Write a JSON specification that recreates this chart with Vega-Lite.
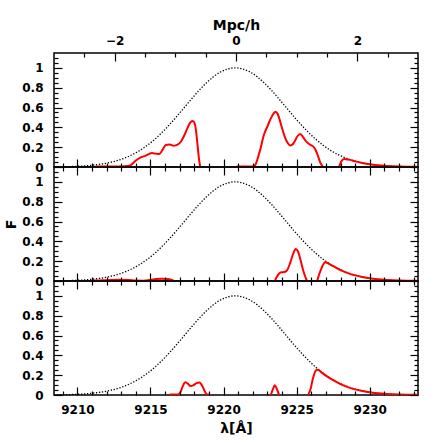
{
"$schema": "https://vega.github.io/schema/vega-lite/v6.json",
"background": "white",
"padding": {"left": 3, "top": 17, "right": 5, "bottom": 5},
"spacing": 0,
"bounds": "flush",
"datasets": {
"env": [
{"lam":9208.4,"F":0.0016},{"lam":9208.8,"F":0.0024},{"lam":9209.3,"F":0.0039},{"lam":9209.8,"F":0.0062},{"lam":9210.3,"F":0.0097},{"lam":9210.8,"F":0.015},{"lam":9211.3,"F":0.0226},{"lam":9211.8,"F":0.0333},{"lam":9212.3,"F":0.0481},{"lam":9212.8,"F":0.068},{"lam":9213.3,"F":0.0942},{"lam":9213.8,"F":0.1277},{"lam":9214.3,"F":0.1695},{"lam":9214.8,"F":0.2204},{"lam":9215.3,"F":0.2806},{"lam":9215.8,"F":0.3499},{"lam":9216.3,"F":0.4271},{"lam":9216.8,"F":0.5106},{"lam":9217.3,"F":0.5977},{"lam":9217.8,"F":0.6852},{"lam":9218.3,"F":0.7691},{"lam":9218.8,"F":0.8453},{"lam":9219.3,"F":0.9098},{"lam":9219.8,"F":0.9589},{"lam":9220.3,"F":0.9896},{"lam":9220.8,"F":1},{"lam":9221.3,"F":0.9896},{"lam":9221.8,"F":0.9589},{"lam":9222.3,"F":0.9098},{"lam":9222.8,"F":0.8453},{"lam":9223.3,"F":0.7691},{"lam":9223.8,"F":0.6852},{"lam":9224.3,"F":0.5977},{"lam":9224.8,"F":0.5106},{"lam":9225.3,"F":0.4271},{"lam":9225.8,"F":0.3499},{"lam":9226.3,"F":0.2806},{"lam":9226.8,"F":0.2204},{"lam":9227.3,"F":0.1695},{"lam":9227.8,"F":0.1277},{"lam":9228.3,"F":0.0942},{"lam":9228.8,"F":0.068},{"lam":9229.3,"F":0.0481},{"lam":9229.8,"F":0.0333},{"lam":9230.3,"F":0.0226},{"lam":9230.8,"F":0.015},{"lam":9231.3,"F":0.0097},{"lam":9231.8,"F":0.0062},{"lam":9232.3,"F":0.0039},{"lam":9232.8,"F":0.0024},{"lam":9233.3,"F":0.0014}
],
"mpcaxis": [{"mpc":-3,"F":0},{"mpc":3,"F":0}],
"red": [
{"p":1,"lam":9208.4,"F":-0.01},{"p":1,"lam":9211.0,"F":-0.01},{"p":1,"lam":9211.3,"F":0.004},{"p":1,"lam":9212.5,"F":0.004},{"p":1,"lam":9213.0,"F":0.005},{"p":1,"lam":9213.4,"F":0.01},{"p":1,"lam":9213.65,"F":0.02},{"p":1,"lam":9214.0,"F":0.065},{"p":1,"lam":9214.3,"F":0.095},{"p":1,"lam":9214.6,"F":0.11},{"p":1,"lam":9215.1,"F":0.14},{"p":1,"lam":9215.35,"F":0.135},{"p":1,"lam":9215.6,"F":0.13},{"p":1,"lam":9215.85,"F":0.18},{"p":1,"lam":9216.05,"F":0.222},{"p":1,"lam":9216.3,"F":0.228},{"p":1,"lam":9216.6,"F":0.215},{"p":1,"lam":9216.85,"F":0.225},{"p":1,"lam":9217.1,"F":0.26},{"p":1,"lam":9217.35,"F":0.33},{"p":1,"lam":9217.55,"F":0.4},{"p":1,"lam":9217.75,"F":0.455},{"p":1,"lam":9217.9,"F":0.465},{"p":1,"lam":9218.02,"F":0.44},{"p":1,"lam":9218.12,"F":0.36},{"p":1,"lam":9218.22,"F":0.22},{"p":1,"lam":9218.32,"F":0.08},{"p":1,"lam":9218.42,"F":0.0},{"p":1,"lam":9218.5,"F":-0.01},{"p":1,"lam":9220.8,"F":-0.01},{"p":1,"lam":9220.95,"F":0.004},{"p":1,"lam":9222.05,"F":0.004},{"p":1,"lam":9222.2,"F":0.03},{"p":1,"lam":9222.4,"F":0.12},{"p":1,"lam":9222.55,"F":0.2},{"p":1,"lam":9222.75,"F":0.32},{"p":1,"lam":9223.0,"F":0.41},{"p":1,"lam":9223.2,"F":0.48},{"p":1,"lam":9223.4,"F":0.535},{"p":1,"lam":9223.56,"F":0.558},{"p":1,"lam":9223.7,"F":0.535},{"p":1,"lam":9223.85,"F":0.47},{"p":1,"lam":9224.0,"F":0.39},{"p":1,"lam":9224.2,"F":0.3},{"p":1,"lam":9224.4,"F":0.24},{"p":1,"lam":9224.55,"F":0.218},{"p":1,"lam":9224.7,"F":0.225},{"p":1,"lam":9224.85,"F":0.255},{"p":1,"lam":9225.05,"F":0.31},{"p":1,"lam":9225.25,"F":0.333},{"p":1,"lam":9225.45,"F":0.3},{"p":1,"lam":9225.65,"F":0.258},{"p":1,"lam":9225.85,"F":0.232},{"p":1,"lam":9226.05,"F":0.215},{"p":1,"lam":9226.25,"F":0.185},{"p":1,"lam":9226.45,"F":0.115},{"p":1,"lam":9226.6,"F":0.05},{"p":1,"lam":9226.75,"F":0.012},{"p":1,"lam":9226.9,"F":-0.01},{"p":1,"lam":9227.85,"F":-0.01},{"p":1,"lam":9227.95,"F":0.02},{"p":1,"lam":9228.05,"F":0.055},{"p":1,"lam":9228.25,"F":0.08},{"p":1,"lam":9228.45,"F":0.076},{"p":1,"lam":9228.65,"F":0.072},{"p":1,"lam":9229.0,"F":0.057},{"p":1,"lam":9229.5,"F":0.04},{"p":1,"lam":9230.0,"F":0.027},{"p":1,"lam":9230.5,"F":0.018},{"p":1,"lam":9231.0,"F":0.0115},{"p":1,"lam":9231.5,"F":0.0075},{"p":1,"lam":9232.0,"F":0.005},{"p":1,"lam":9232.5,"F":0.003},{"p":1,"lam":9233.3,"F":0.002},
{"p":2,"lam":9208.4,"F":-0.01},{"p":2,"lam":9211.0,"F":-0.01},{"p":2,"lam":9211.2,"F":0.004},{"p":2,"lam":9212.0,"F":0.008},{"p":2,"lam":9212.8,"F":0.012},{"p":2,"lam":9213.5,"F":0.01},{"p":2,"lam":9214.0,"F":0.004},{"p":2,"lam":9214.5,"F":0.003},{"p":2,"lam":9215.0,"F":0.01},{"p":2,"lam":9215.4,"F":0.02},{"p":2,"lam":9215.8,"F":0.023},{"p":2,"lam":9216.2,"F":0.02},{"p":2,"lam":9216.5,"F":0.008},{"p":2,"lam":9216.7,"F":-0.01},{"p":2,"lam":9223.45,"F":-0.01},{"p":2,"lam":9223.6,"F":0.03},{"p":2,"lam":9223.8,"F":0.075},{"p":2,"lam":9223.95,"F":0.088},{"p":2,"lam":9224.15,"F":0.09},{"p":2,"lam":9224.35,"F":0.11},{"p":2,"lam":9224.55,"F":0.18},{"p":2,"lam":9224.75,"F":0.27},{"p":2,"lam":9224.93,"F":0.322},{"p":2,"lam":9225.1,"F":0.295},{"p":2,"lam":9225.3,"F":0.19},{"p":2,"lam":9225.5,"F":0.08},{"p":2,"lam":9225.65,"F":0.02},{"p":2,"lam":9225.75,"F":-0.01},{"p":2,"lam":9226.35,"F":-0.01},{"p":2,"lam":9226.5,"F":0.05},{"p":2,"lam":9226.7,"F":0.13},{"p":2,"lam":9226.95,"F":0.19},{"p":2,"lam":9227.15,"F":0.178},{"p":2,"lam":9227.5,"F":0.149},{"p":2,"lam":9228.0,"F":0.11},{"p":2,"lam":9228.5,"F":0.08},{"p":2,"lam":9229.0,"F":0.057},{"p":2,"lam":9229.5,"F":0.04},{"p":2,"lam":9230.0,"F":0.027},{"p":2,"lam":9230.5,"F":0.018},{"p":2,"lam":9231.0,"F":0.0115},{"p":2,"lam":9231.5,"F":0.0075},{"p":2,"lam":9232.0,"F":0.005},{"p":2,"lam":9232.5,"F":0.003},{"p":2,"lam":9233.3,"F":0.002},
{"p":3,"lam":9208.4,"F":-0.01},{"p":3,"lam":9216.2,"F":-0.01},{"p":3,"lam":9216.35,"F":0.004},{"p":3,"lam":9216.9,"F":0.004},{"p":3,"lam":9217.05,"F":0.03},{"p":3,"lam":9217.2,"F":0.085},{"p":3,"lam":9217.38,"F":0.128},{"p":3,"lam":9217.55,"F":0.115},{"p":3,"lam":9217.75,"F":0.09},{"p":3,"lam":9217.95,"F":0.1},{"p":3,"lam":9218.15,"F":0.12},{"p":3,"lam":9218.35,"F":0.126},{"p":3,"lam":9218.55,"F":0.09},{"p":3,"lam":9218.72,"F":0.035},{"p":3,"lam":9218.85,"F":0.005},{"p":3,"lam":9219.0,"F":0.004},{"p":3,"lam":9219.2,"F":-0.01},{"p":3,"lam":9223.15,"F":-0.01},{"p":3,"lam":9223.25,"F":0.01},{"p":3,"lam":9223.38,"F":0.06},{"p":3,"lam":9223.5,"F":0.098},{"p":3,"lam":9223.62,"F":0.07},{"p":3,"lam":9223.75,"F":0.02},{"p":3,"lam":9223.85,"F":-0.01},{"p":3,"lam":9225.7,"F":-0.01},{"p":3,"lam":9225.82,"F":0.01},{"p":3,"lam":9225.95,"F":0.06},{"p":3,"lam":9226.1,"F":0.16},{"p":3,"lam":9226.3,"F":0.245},{"p":3,"lam":9226.45,"F":0.255},{"p":3,"lam":9226.7,"F":0.228},{"p":3,"lam":9227.0,"F":0.195},{"p":3,"lam":9227.5,"F":0.149},{"p":3,"lam":9228.0,"F":0.11},{"p":3,"lam":9228.5,"F":0.08},{"p":3,"lam":9229.0,"F":0.057},{"p":3,"lam":9229.5,"F":0.04},{"p":3,"lam":9230.0,"F":0.027},{"p":3,"lam":9230.5,"F":0.018},{"p":3,"lam":9231.0,"F":0.0115},{"p":3,"lam":9231.5,"F":0.0075},{"p":3,"lam":9232.0,"F":0.005},{"p":3,"lam":9232.5,"F":0.003},{"p":3,"lam":9233.3,"F":0.002}
]
},
"vconcat": [
{
"width": 364, "height": 114,
"resolve": {"scale": {"x": "independent"}, "axis": {"x": "independent", "y": "independent"}},
"layer": [
{"data": {"name": "env"}, "mark": {"type": "line", "color": "black", "strokeWidth": 1.3, "strokeDash": [1.3, 1.7], "interpolate": "monotone"},
 "encoding": {
  "x": {"field": "lam", "type": "quantitative", "scale": {"domain": [9208.4, 9233.3], "nice": false, "zero": false}, "axis": {"orient": "bottom", "values": [9210, 9215, 9220, 9225, 9230], "ticks": true, "tickColor": "black", "tickWidth": 1.2, "tickOpacity": 1, "zindex": 1, "tickSize": -8, "labels": false, "title": null}},
  "y": {"field": "F", "type": "quantitative", "scale": {"domain": [0, 1.15], "nice": false, "zero": false}, "axis": {"orient": "left", "values": [0, 0.2, 0.4, 0.6, 0.8, 1], "ticks": true, "tickColor": "black", "tickWidth": 1.2, "tickOpacity": 1, "zindex": 1, "tickSize": -8, "labelPadding": 19, "format": "~g", "title": null}}
 }},
{"data": {"name": "red"}, "transform": [{"filter": "datum.p == 1"}], "mark": {"type": "line", "color": "#ff0000", "strokeWidth": 2, "clip": true, "interpolate": "monotone"},
 "encoding": {
  "x": {"field": "lam", "type": "quantitative", "scale": {"domain": [9208.4, 9233.3], "nice": false, "zero": false}, "axis": {"orient": "bottom", "values": [9209,9211,9212,9213,9214,9216,9217,9218,9219,9221,9222,9223,9224,9226,9227,9228,9229,9231,9232,9233], "ticks": true, "tickColor": "black", "tickWidth": 1.2, "tickOpacity": 1, "zindex": 1, "tickSize": -4, "labels": false, "title": null}},
  "y": {"field": "F", "type": "quantitative", "scale": {"domain": [0, 1.15], "nice": false, "zero": false}, "axis": {"orient": "left", "values": [0.05,0.1,0.15,0.25,0.3,0.35,0.45,0.5,0.55,0.65,0.7,0.75,0.85,0.9,0.95,1.05,1.1], "ticks": true, "tickColor": "black", "tickWidth": 1.2, "tickOpacity": 1, "zindex": 1, "tickSize": -4, "labels": false, "title": null}}
 }},
{"data": {"name": "mpcaxis"}, "mark": {"type": "line", "opacity": 0},
 "encoding": {
  "x": {"field": "mpc", "type": "quantitative", "scale": {"domain": [-3, 3], "nice": false, "zero": false}, "axis": {"orient": "top", "values": [-2, 0, 2], "ticks": true, "tickColor": "black", "tickWidth": 1.2, "tickOpacity": 1, "zindex": 1, "tickSize": -8, "labelPadding": 14, "format": "~g", "title": "Mpc/h", "titlePadding": 2}},
  "y": {"field": "F", "type": "quantitative", "scale": {"domain": [0, 1.15], "nice": false, "zero": false}, "axis": {"orient": "right", "values": [0, 0.2, 0.4, 0.6, 0.8, 1], "ticks": true, "tickColor": "black", "tickWidth": 1.2, "tickOpacity": 1, "zindex": 1, "tickSize": -8, "labels": false, "title": null}}
 }},
{"data": {"name": "mpcaxis"}, "mark": {"type": "line", "opacity": 0},
 "encoding": {
  "x": {"field": "mpc", "type": "quantitative", "scale": {"domain": [-3, 3], "nice": false, "zero": false}, "axis": {"orient": "top", "values": [-2.5,-1.5,-1,-0.5,0.5,1,1.5,2.5], "ticks": true, "tickColor": "black", "tickWidth": 1.2, "tickOpacity": 1, "zindex": 1, "tickSize": -4, "labels": false, "title": null}},
  "y": {"field": "F", "type": "quantitative", "scale": {"domain": [0, 1.15], "nice": false, "zero": false}, "axis": {"orient": "right", "values": [0.05,0.1,0.15,0.25,0.3,0.35,0.45,0.5,0.55,0.65,0.7,0.75,0.85,0.9,0.95,1.05,1.1], "ticks": true, "tickColor": "black", "tickWidth": 1.2, "tickOpacity": 1, "zindex": 1, "tickSize": -4, "labels": false, "title": null}}
 }}
]
},
{
"width": 364, "height": 114,
"resolve": {"axis": {"x": "independent", "y": "independent"}},
"layer": [
{"data": {"name": "env"}, "mark": {"type": "line", "color": "black", "strokeWidth": 1.3, "strokeDash": [1.3, 1.7], "interpolate": "monotone"},
 "encoding": {
  "x": {"field": "lam", "type": "quantitative", "scale": {"domain": [9208.4, 9233.3], "nice": false, "zero": false}, "axis": {"orient": "bottom", "values": [9210, 9215, 9220, 9225, 9230], "ticks": true, "tickColor": "black", "tickWidth": 1.2, "tickOpacity": 1, "zindex": 1, "tickSize": -8, "labels": false, "title": null}},
  "y": {"field": "F", "type": "quantitative", "scale": {"domain": [0, 1.15], "nice": false, "zero": false}, "axis": {"orient": "left", "values": [0, 0.2, 0.4, 0.6, 0.8, 1], "ticks": true, "tickColor": "black", "tickWidth": 1.2, "tickOpacity": 1, "zindex": 1, "tickSize": -8, "labelPadding": 19, "format": "~g", "title": "F", "titlePadding": 3}}
 }},
{"data": {"name": "red"}, "transform": [{"filter": "datum.p == 2"}], "mark": {"type": "line", "color": "#ff0000", "strokeWidth": 2, "clip": true, "interpolate": "monotone"},
 "encoding": {
  "x": {"field": "lam", "type": "quantitative", "scale": {"domain": [9208.4, 9233.3], "nice": false, "zero": false}, "axis": {"orient": "bottom", "values": [9209,9211,9212,9213,9214,9216,9217,9218,9219,9221,9222,9223,9224,9226,9227,9228,9229,9231,9232,9233], "ticks": true, "tickColor": "black", "tickWidth": 1.2, "tickOpacity": 1, "zindex": 1, "tickSize": -4, "labels": false, "title": null}},
  "y": {"field": "F", "type": "quantitative", "scale": {"domain": [0, 1.15], "nice": false, "zero": false}, "axis": {"orient": "left", "values": [0.05,0.1,0.15,0.25,0.3,0.35,0.45,0.5,0.55,0.65,0.7,0.75,0.85,0.9,0.95,1.05,1.1], "ticks": true, "tickColor": "black", "tickWidth": 1.2, "tickOpacity": 1, "zindex": 1, "tickSize": -4, "labels": false, "title": null}}
 }},
{"data": {"name": "env"}, "mark": {"type": "line", "opacity": 0},
 "encoding": {
  "x": {"field": "lam", "type": "quantitative", "scale": {"domain": [9208.4, 9233.3], "nice": false, "zero": false}, "axis": {"orient": "top", "values": [9210, 9215, 9220, 9225, 9230], "ticks": true, "tickColor": "black", "tickWidth": 1.2, "tickOpacity": 1, "zindex": 1, "tickSize": -8, "labels": false, "title": null}},
  "y": {"field": "F", "type": "quantitative", "scale": {"domain": [0, 1.15], "nice": false, "zero": false}, "axis": {"orient": "right", "values": [0, 0.2, 0.4, 0.6, 0.8, 1], "ticks": true, "tickColor": "black", "tickWidth": 1.2, "tickOpacity": 1, "zindex": 1, "tickSize": -8, "labels": false, "title": null}}
 }},
{"data": {"name": "env"}, "mark": {"type": "line", "opacity": 0},
 "encoding": {
  "x": {"field": "lam", "type": "quantitative", "scale": {"domain": [9208.4, 9233.3], "nice": false, "zero": false}, "axis": {"orient": "top", "values": [9209,9211,9212,9213,9214,9216,9217,9218,9219,9221,9222,9223,9224,9226,9227,9228,9229,9231,9232,9233], "ticks": true, "tickColor": "black", "tickWidth": 1.2, "tickOpacity": 1, "zindex": 1, "tickSize": -4, "labels": false, "title": null}},
  "y": {"field": "F", "type": "quantitative", "scale": {"domain": [0, 1.15], "nice": false, "zero": false}, "axis": {"orient": "right", "values": [0.05,0.1,0.15,0.25,0.3,0.35,0.45,0.5,0.55,0.65,0.7,0.75,0.85,0.9,0.95,1.05,1.1], "ticks": true, "tickColor": "black", "tickWidth": 1.2, "tickOpacity": 1, "zindex": 1, "tickSize": -4, "labels": false, "title": null}}
 }}
]
},
{
"width": 364, "height": 114,
"resolve": {"axis": {"x": "independent", "y": "independent"}},
"layer": [
{"data": {"name": "env"}, "mark": {"type": "line", "color": "black", "strokeWidth": 1.3, "strokeDash": [1.3, 1.7], "interpolate": "monotone"},
 "encoding": {
  "x": {"field": "lam", "type": "quantitative", "scale": {"domain": [9208.4, 9233.3], "nice": false, "zero": false}, "axis": {"orient": "bottom", "values": [9210, 9215, 9220, 9225, 9230], "ticks": true, "tickColor": "black", "tickWidth": 1.2, "tickOpacity": 1, "zindex": 1, "tickSize": -8, "labelPadding": 17, "format": "d", "title": "λ[Å]", "titlePadding": 6}},
  "y": {"field": "F", "type": "quantitative", "scale": {"domain": [0, 1.15], "nice": false, "zero": false}, "axis": {"orient": "left", "values": [0, 0.2, 0.4, 0.6, 0.8, 1], "ticks": true, "tickColor": "black", "tickWidth": 1.2, "tickOpacity": 1, "zindex": 1, "tickSize": -8, "labelPadding": 19, "format": "~g", "title": null}}
 }},
{"data": {"name": "red"}, "transform": [{"filter": "datum.p == 3"}], "mark": {"type": "line", "color": "#ff0000", "strokeWidth": 2, "clip": true, "interpolate": "monotone"},
 "encoding": {
  "x": {"field": "lam", "type": "quantitative", "scale": {"domain": [9208.4, 9233.3], "nice": false, "zero": false}, "axis": {"orient": "bottom", "values": [9209,9211,9212,9213,9214,9216,9217,9218,9219,9221,9222,9223,9224,9226,9227,9228,9229,9231,9232,9233], "ticks": true, "tickColor": "black", "tickWidth": 1.2, "tickOpacity": 1, "zindex": 1, "tickSize": -4, "labels": false, "title": null}},
  "y": {"field": "F", "type": "quantitative", "scale": {"domain": [0, 1.15], "nice": false, "zero": false}, "axis": {"orient": "left", "values": [0.05,0.1,0.15,0.25,0.3,0.35,0.45,0.5,0.55,0.65,0.7,0.75,0.85,0.9,0.95,1.05,1.1], "ticks": true, "tickColor": "black", "tickWidth": 1.2, "tickOpacity": 1, "zindex": 1, "tickSize": -4, "labels": false, "title": null}}
 }},
{"data": {"name": "env"}, "mark": {"type": "line", "opacity": 0},
 "encoding": {
  "x": {"field": "lam", "type": "quantitative", "scale": {"domain": [9208.4, 9233.3], "nice": false, "zero": false}, "axis": {"orient": "top", "values": [9210, 9215, 9220, 9225, 9230], "ticks": true, "tickColor": "black", "tickWidth": 1.2, "tickOpacity": 1, "zindex": 1, "tickSize": -8, "labels": false, "title": null}},
  "y": {"field": "F", "type": "quantitative", "scale": {"domain": [0, 1.15], "nice": false, "zero": false}, "axis": {"orient": "right", "values": [0, 0.2, 0.4, 0.6, 0.8, 1], "ticks": true, "tickColor": "black", "tickWidth": 1.2, "tickOpacity": 1, "zindex": 1, "tickSize": -8, "labels": false, "title": null}}
 }},
{"data": {"name": "env"}, "mark": {"type": "line", "opacity": 0},
 "encoding": {
  "x": {"field": "lam", "type": "quantitative", "scale": {"domain": [9208.4, 9233.3], "nice": false, "zero": false}, "axis": {"orient": "top", "values": [9209,9211,9212,9213,9214,9216,9217,9218,9219,9221,9222,9223,9224,9226,9227,9228,9229,9231,9232,9233], "ticks": true, "tickColor": "black", "tickWidth": 1.2, "tickOpacity": 1, "zindex": 1, "tickSize": -4, "labels": false, "title": null}},
  "y": {"field": "F", "type": "quantitative", "scale": {"domain": [0, 1.15], "nice": false, "zero": false}, "axis": {"orient": "right", "values": [0.05,0.1,0.15,0.25,0.3,0.35,0.45,0.5,0.55,0.65,0.7,0.75,0.85,0.9,0.95,1.05,1.1], "ticks": true, "tickColor": "black", "tickWidth": 1.2, "tickOpacity": 1, "zindex": 1, "tickSize": -4, "labels": false, "title": null}}
 }}
]
}
],
"config": {
 "view": {"stroke": "black", "strokeWidth": 1.5},
 "axis": {"domain": false, "grid": false, "labelFont": "DejaVu Sans", "labelFontSize": 12, "labelFontWeight": "bold", "labelColor": "black", "titleFont": "DejaVu Sans", "titleFontSize": 14, "titleFontWeight": "bold", "titleColor": "black", "labelFlush": false, "labelOverlap": false}
}
}
